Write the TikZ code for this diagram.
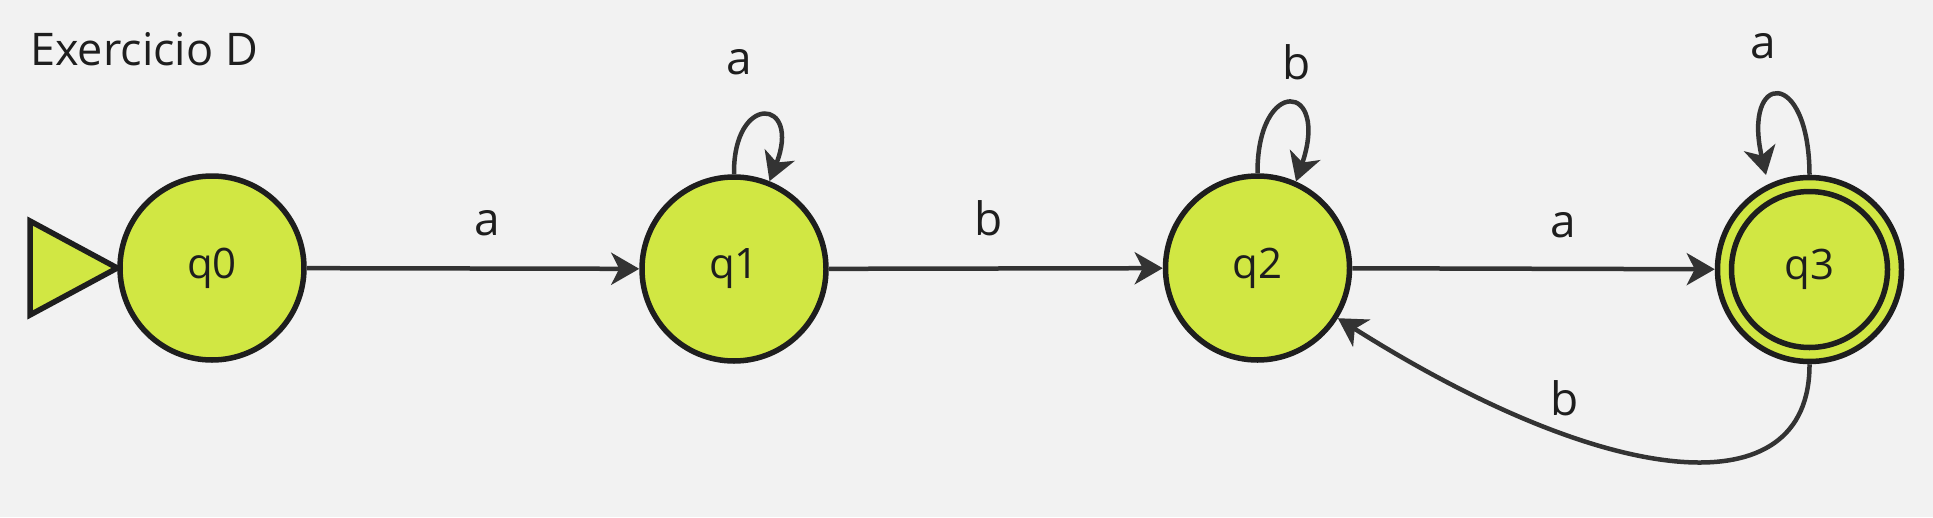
\documentclass[tikz,border=0pt]{standalone}
\usepackage{fontspec}
\setmainfont{Open Sans}
\usetikzlibrary{arrows.meta,calc}
\definecolor{bg}{HTML}{F2F2F2}
\definecolor{stfill}{HTML}{D1E743}
\definecolor{stline}{HTML}{1E1E1E}
\definecolor{edgecol}{HTML}{333333}
\begin{document}
\begin{tikzpicture}[x=1pt,y=-1pt,
  state/.style={circle,draw=stline,fill=stfill,line width=5.5pt,minimum size=184pt,inner sep=0pt,
    font=\fontsize{42}{50}\selectfont,text=stline},
  edge/.style={draw=edgecol,line width=4.5pt,-{Stealth[length=28pt,width=32pt,inset=8pt]}},
  lbl/.style={font=\fontsize{46}{55}\selectfont,text=stline,inner sep=0pt,anchor=base}]
\fill[bg] (0,0) rectangle (1933,517);
\useasboundingbox (0,0) rectangle (1933,517);
\node[anchor=base west,font=\fontsize{45}{54}\selectfont,text=stline,inner sep=0pt] (title) at (30,65) {Exercicio D};
\node[state] (q0) at (212,268) {q0};
\node[state] (q1) at (734,269) {q1};
\node[state] (q2) at (1257.5,268) {q2};
\node[state] (q3) at (1809.5,269.5) {q3};
\draw[stline,line width=5.5pt] (q3.center) circle (78pt);
% initial marker
\draw[fill=stfill,draw=stline,line width=5.5pt,line join=miter] (30,221) -- (30,315) -- (q0.west) -- cycle;
% straight edges
\draw[edge] (q0) -- (q1);
\draw[edge] (q1) -- (q2);
\draw[edge] (q2) -- (q3);
% loops
\draw[edge] (q1.north) .. controls (733,92) and (802,98) .. (q1.68);
\draw[edge] (q2.north) .. controls (1257,76) and (1330,82) .. (q2.66);
\coordinate (q3loopend) at (1766,175);
\draw[edge] (q3.north) .. controls (1809,66) and (1742,72) .. (q3loopend);
% back edge
\draw[edge] (q3.south) .. controls (1810,510) and (1610,490) .. (q2.-32);
% labels
\node[lbl] (l01) at (487,235) {a};
\node[lbl] (l12) at (989,235) {b};
\node[lbl] (l23) at (1563,237) {a};
\node[lbl] (l11) at (739,74) {a};
\node[lbl] (l22) at (1297,79) {b};
\node[lbl] (l33) at (1763,58) {a};
\node[lbl] (l32) at (1565,415) {b};
\end{tikzpicture}
\end{document}
